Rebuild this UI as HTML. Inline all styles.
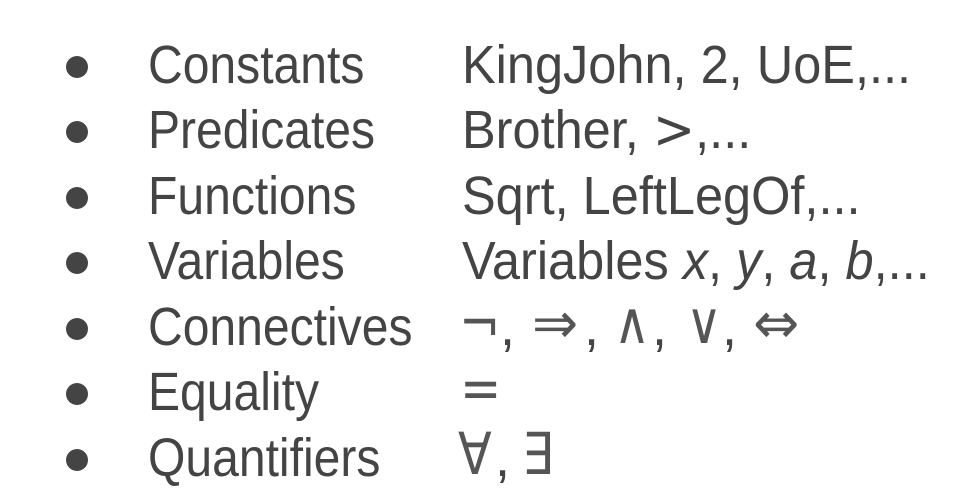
<!DOCTYPE html>
<html><head><meta charset="utf-8"><style>
html,body{margin:0;padding:0;background:#fff;width:966px;height:496px;overflow:hidden}
.r{position:absolute;left:0;width:966px;height:0}
.b{position:absolute;left:66px;width:22px;height:22px;border-radius:50%;background:#444;top:-11px}
.t{position:absolute;top:-2px;font-family:"Liberation Sans",sans-serif;font-size:54px;color:#444;line-height:0;white-space:nowrap;transform-origin:0 0}
.c1{left:148px;transform:scaleX(0.89)}
.c2{left:462px;transform:scaleX(0.935)}
.s{font-family:"DejaVu Sans",sans-serif;font-weight:normal}
.y{position:absolute;top:-6px;font-family:"DejaVu Sans",sans-serif;font-size:58px;color:#555;line-height:0;white-space:nowrap;transform-origin:0 0}
.cm{position:absolute;top:-2px;font-family:"Liberation Sans",sans-serif;font-size:54px;color:#444;line-height:0}
i{font-style:italic}
</style></head><body>
<div class="r" style="top:67px"><div class="b"></div><div class="t c1">Constants</div><div class="t c2">KingJohn, 2, UoE,...</div></div>
<div class="r" style="top:132px"><div class="b"></div><div class="t c1">Predicates</div><div class="t c2">Brother, <span class="s">&gt;</span>,...</div></div>
<div class="r" style="top:198px"><div class="b"></div><div class="t c1">Functions</div><div class="t c2">Sqrt, LeftLegOf,...</div></div>
<div class="r" style="top:263px"><div class="b"></div><div class="t c1">Variables</div><div class="t c2">Variables <i>x</i>, <i>y</i>, <i>a</i>, <i>b</i>,...</div></div>
<div class="r" style="top:329px"><div class="b"></div><div class="t c1">Connectives</div>
<div class="y" style="left:459px;transform:scaleX(0.85)">¬</div><div class="cm" style="left:500px">,</div>
<div class="y" style="left:532px;transform:scaleX(0.95)">⇒</div><div class="cm" style="left:584px">,</div>
<div class="y" style="left:614px;transform:scaleX(0.85)">∧</div><div class="cm" style="left:652px">,</div>
<div class="y" style="left:686px;transform:scaleX(0.85)">∨</div><div class="cm" style="left:722px">,</div>
<div class="y" style="left:753px;transform:scaleX(0.95)">⇔</div>
</div>
<div class="r" style="top:394px"><div class="b"></div><div class="t c1">Equality</div><div class="y" style="left:460px;transform:scaleX(0.85)">=</div></div>
<div class="r" style="top:460px"><div class="b"></div><div class="t c1">Quantifiers</div>
<div class="y" style="left:458px;transform:scaleX(0.85)">∀</div><div class="cm" style="left:495px">,</div><div class="y" style="left:522px;transform:scaleX(0.85)">∃</div></div>
</body></html>
